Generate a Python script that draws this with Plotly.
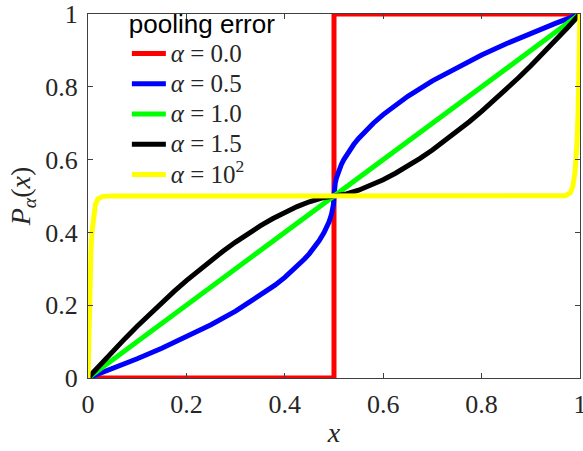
import plotly.graph_objects as go

# ---- data ----
labels = ["<i>α</i> = 0.0", "<i>α</i> = 0.5", "<i>α</i> = 1.0", "<i>α</i> = 1.5", "<i>α</i> = 10<sup>2</sup>"]
colors = ["#ff0000", "#0000ff", "#00ff00", "#000000", "#ffff00"]

x_a00 = [0, 0.5, 0.5, 1]
y_a00 = [0, 0, 1, 1]

x_a05 = [0, 0.05, 0.1, 0.15, 0.2, 0.25, 0.3, 0.35, 0.38, 0.4, 0.42, 0.44, 0.45, 0.46, 0.47, 0.48, 0.485, 0.49, 0.495, 0.4975, 0.499, 0.5,
         0.501, 0.5025, 0.505, 0.51, 0.515, 0.52, 0.53, 0.54, 0.55, 0.56, 0.58, 0.6, 0.62, 0.65, 0.7, 0.75, 0.8, 0.85, 0.9, 0.95, 1]
y_a05 = [0, 0.0257, 0.0528, 0.0817, 0.1127, 0.1464, 0.1838, 0.2261, 0.2551, 0.2764, 0.3, 0.3268, 0.3419, 0.3586, 0.3775, 0.4, 0.4134, 0.4293, 0.45, 0.4646, 0.4776, 0.5,
         0.5224, 0.5354, 0.55, 0.5707, 0.5866, 0.6, 0.6225, 0.6414, 0.6581, 0.6732, 0.7, 0.7236, 0.7449, 0.7739, 0.8162, 0.8536, 0.8873, 0.9183, 0.9472, 0.9743, 1]

x_a10 = [0, 1]
y_a10 = [0, 1]

x_a15 = [0, 0.025, 0.05, 0.075, 0.1, 0.125, 0.15, 0.175, 0.2, 0.225, 0.25, 0.275, 0.3, 0.325, 0.35, 0.375, 0.4, 0.425, 0.45, 0.475, 0.5,
         0.525, 0.55, 0.575, 0.6, 0.625, 0.65, 0.675, 0.7, 0.725, 0.75, 0.775, 0.8, 0.825, 0.85, 0.875, 0.9, 0.925, 0.95, 0.975, 1]
y_a15 = [0, 0.037, 0.0731, 0.1082, 0.1422, 0.1752, 0.2072, 0.238, 0.2676, 0.2961, 0.3232, 0.3491, 0.3735, 0.3965, 0.4178, 0.4375, 0.4553, 0.471, 0.4842, 0.4944, 0.5,
         0.5056, 0.5158, 0.529, 0.5447, 0.5625, 0.5822, 0.6035, 0.6265, 0.6509, 0.6768, 0.7039, 0.7324, 0.762, 0.7928, 0.8248, 0.8578, 0.8918, 0.9269, 0.963, 1]

x_a100 = [0, 0.001, 0.002, 0.004, 0.006, 0.008, 0.01, 0.015, 0.02, 0.03, 0.05, 0.5,
          0.95, 0.97, 0.98, 0.985, 0.99, 0.992, 0.994, 0.996, 0.998, 0.999, 1]
y_a100 = [0, 0.0907, 0.1651, 0.2761, 0.3505, 0.4004, 0.4337, 0.4762, 0.4916, 0.499, 0.5, 0.5,
          0.5, 0.501, 0.5084, 0.5238, 0.5663, 0.5996, 0.6495, 0.7239, 0.8349, 0.9093, 1]

tick_vals = [0, 0.2, 0.4, 0.6, 0.8, 1]
tick_text = ["0", "0.2", "0.4", "0.6", "0.8", "1"]

series = [(x_a00, y_a00), (x_a05, y_a05), (x_a10, y_a10), (x_a15, y_a15), (x_a100, y_a100)]

fig = go.Figure()
for (xs, ys), name, c in zip(series, labels, colors):
    fig.add_trace(go.Scatter(x=xs, y=ys, mode="lines",
                             name='<span style="font-size:25px">' + name + '</span>',
                             line=dict(color=c, width=5)))

serif = "Liberation Serif, Times New Roman, serif"
axis_common = dict(
    range=[0, 1], tickvals=tick_vals, ticktext=tick_text,
    ticks="inside", ticklen=5, tickcolor="#404040", tickwidth=1,
    showline=True, linecolor="#404040", linewidth=1, mirror="ticks",
    showgrid=False, zeroline=False, automargin=False,
    ticklabeloverflow="allow",
    tickfont=dict(family=serif, size=26, color="#262626"),
)

fig.update_layout(
    width=583, height=451,
    margin=dict(l=88, r=3, t=14, b=73, autoexpand=False),
    paper_bgcolor="white", plot_bgcolor="white",
    xaxis=dict(**axis_common, ticklabelstandoff=3,
               title=dict(text="<i>x</i>", font=dict(family=serif, size=28, color="#262626"), standoff=4)),
    yaxis=dict(**axis_common, ticklabelstandoff=4,
               title=dict(text="<i>P</i><sub><i>α</i></sub>(<i>x</i>)", font=dict(family=serif, size=28, color="#262626"), standoff=6)),
    legend=dict(
        x=0.079, y=1.04, xanchor="left", yanchor="top",
        bgcolor="rgba(0,0,0,0)", borderwidth=0,
        font=dict(family=serif, size=21, color="#262626"),
        title=dict(text="pooling error", side="top",
                   font=dict(family="Liberation Sans, Arial, sans-serif", size=26, color="#000000")),
        itemwidth=34, tracegroupgap=0,
    ),
    showlegend=True,
)

fig.write_html("out.html", config={"displayModeBar": False},
               post_script="document.body.style.margin='0';")
